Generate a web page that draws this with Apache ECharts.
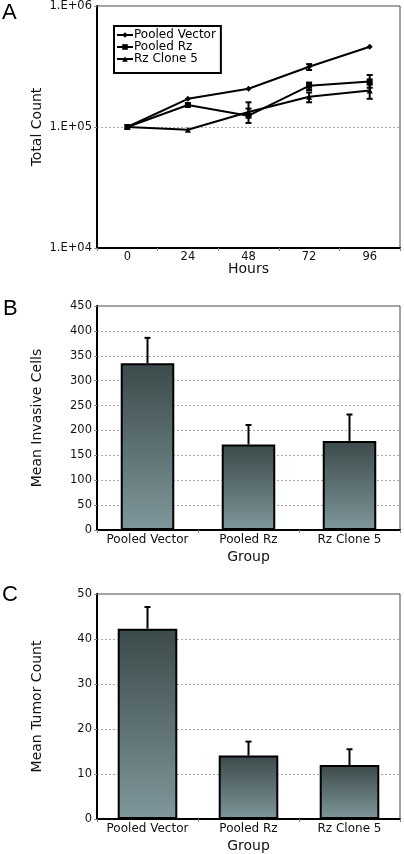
<!DOCTYPE html>
<html><head><meta charset="utf-8">
<script src="https://cdn.jsdelivr.net/npm/echarts@6/dist/echarts.min.js"></script>
<style>html,body{margin:0;padding:0;background:#fff}#c{width:404px;height:854px}</style>
</head><body><div id="c"></div>
<script>
// ---- Panel A data ----
const hours = ['0', '24', '48', '72', '96'];
const pooledVector = [100000, 171000, 207000, 315000, 460000];
const pooledRz = [100000, 152000, 124000, 219000, 238000];
const rzClone5 = [100000, 95000, 133000, 178000, 200000];
// error bars: [hourIndex, low, high]
const pooledVectorErr = [[3, 296000, 331000]];
const pooledRzErr = [[2, 108000, 160000], [3, 202000, 233000], [4, 211000, 269000]];
const rzClone5Err = [[2, 125000, 142000], [3, 160000, 193000], [4, 171000, 224000]];
const logTickLabels = ['1.E+04', '1.E+05', '1.E+06'];

// ---- Panel B / C data ----
const groups = ['Pooled Vector', 'Pooled Rz', 'Rz Clone 5'];
const invasiveMean = [335, 172, 179];
const invasiveErrHigh = [386, 211, 232];
const tumorMean = [42.3, 14.1, 12.0];
const tumorErrHigh = [47.1, 17.2, 15.5];

const FONT = 'DejaVu Sans';
const chart = echarts.init(document.getElementById('c'), null, {renderer: 'canvas'});

function makeErrRender(bottomCap) {
  return function (params, api) {
    const x = api.value(0), lo = api.value(1), hi = api.value(2);
    const pHi = api.coord([x, hi]);
    const pLo = api.coord([x, lo]);
    const w = 3;
    const style = {stroke: '#000', lineWidth: 2, fill: null};
    const children = [
      {type: 'line', shape: {x1: pHi[0], y1: pHi[1], x2: pLo[0], y2: pLo[1]}, style: style},
      {type: 'line', shape: {x1: pHi[0] - w, y1: pHi[1], x2: pHi[0] + w, y2: pHi[1]}, style: style}
    ];
    if (bottomCap) {
      children.push({type: 'line', shape: {x1: pLo[0] - w, y1: pLo[1], x2: pLo[0] + w, y2: pLo[1]}, style: style});
    }
    return {type: 'group', children: children};
  };
}

const barGrad = new echarts.graphic.LinearGradient(0, 0, 0, 1, [
  {offset: 0, color: '#3b4a4a'},
  {offset: 1, color: '#7f979b'}
]);

const axisLabelStyle = {color: '#111', fontFamily: FONT, fontSize: 11.5};
const nameStyle = {color: '#111', fontFamily: FONT, fontSize: 14};
const axisLine = {show: true, onZero: false, lineStyle: {color: '#000', width: 2}};
const splitDotted = {show: true, lineStyle: {color: '#aaa', type: [2, 2], width: 1}};
const gridCommon = {left: 97, right: 4, show: true, borderColor: '#444', borderWidth: 1, containLabel: false};

const titleStyle = {fontFamily: 'Liberation Sans', fontSize: 22, fontWeight: 'normal', color: '#000'};

const option = {
  animation: false,
  backgroundColor: '#fff',
  title: [
    {text: 'A', left: 2, top: 2, padding: 0, textStyle: titleStyle},
    {text: 'B', left: 3, top: 298, padding: 0, textStyle: titleStyle},
    {text: 'C', left: 2, top: 584, padding: 0, textStyle: titleStyle}
  ],
  legend: {
    data: ['Pooled Vector', 'Pooled Rz', 'Rz Clone 5'],
    orient: 'vertical', left: 114, top: 26,
    padding: [3, 5, 8, 2], itemGap: 0, itemWidth: 16, itemHeight: 7,
    borderColor: '#000', borderWidth: 2,
    textStyle: {fontFamily: FONT, fontSize: 12, color: '#000', padding: [0, 0, 0, -4], lineHeight: 12}
  },
  grid: [
    Object.assign({top: 5, height: 243}, gridCommon),
    Object.assign({top: 306, height: 224}, gridCommon),
    Object.assign({top: 594, height: 227}, gridCommon)
  ],
  xAxis: [
    {gridIndex: 0, type: 'category', data: hours, boundaryGap: true,
     axisLine: axisLine, axisTick: {show: true, length: 3, lineStyle: {color: '#888'}},
     axisLabel: Object.assign({margin: 3, interval: 0}, axisLabelStyle),
     name: 'Hours', nameLocation: 'middle', nameGap: 14, nameMoveOverlap: false, nameTextStyle: nameStyle, splitLine: {show: false}},
    {gridIndex: 1, type: 'category', data: groups, boundaryGap: true,
     axisLine: axisLine, axisTick: {show: true, length: 3, lineStyle: {color: '#888'}},
     axisLabel: Object.assign({margin: 4, interval: 0}, axisLabelStyle, {fontSize: 12}),
     name: 'Group', nameLocation: 'middle', nameGap: 20, nameMoveOverlap: false, nameTextStyle: nameStyle, splitLine: {show: false}},
    {gridIndex: 2, type: 'category', data: groups, boundaryGap: true,
     axisLine: axisLine, axisTick: {show: true, length: 3, lineStyle: {color: '#888'}},
     axisLabel: Object.assign({margin: 4, interval: 0}, axisLabelStyle, {fontSize: 12}),
     name: 'Group', nameLocation: 'middle', nameGap: 20, nameMoveOverlap: false, nameTextStyle: nameStyle, splitLine: {show: false}}
  ],
  yAxis: [
    {gridIndex: 0, type: 'log', logBase: 10, min: 10000, max: 1000000,
     axisLine: axisLine, axisTick: {show: true, length: 3, lineStyle: {color: '#888'}},
     axisLabel: Object.assign({margin: 5, formatter: function (v, i) { return logTickLabels[i]; }}, axisLabelStyle),
     splitLine: splitDotted, minorTick: {show: false},
     name: 'Total Count', nameLocation: 'middle', nameGap: 53, nameMoveOverlap: false, nameTextStyle: nameStyle},
    {gridIndex: 1, type: 'value', min: 0, max: 450, interval: 50,
     axisLine: axisLine, axisTick: {show: true, length: 3, lineStyle: {color: '#888'}},
     axisLabel: Object.assign({margin: 5}, axisLabelStyle),
     splitLine: splitDotted,
     name: 'Mean Invasive Cells', nameLocation: 'middle', nameGap: 53, nameMoveOverlap: false, nameTextStyle: nameStyle},
    {gridIndex: 2, type: 'value', min: 0, max: 50, interval: 10,
     axisLine: axisLine, axisTick: {show: true, length: 3, lineStyle: {color: '#888'}},
     axisLabel: Object.assign({margin: 5}, axisLabelStyle),
     splitLine: splitDotted,
     name: 'Mean Tumor Count', nameLocation: 'middle', nameGap: 53, nameMoveOverlap: false, nameTextStyle: nameStyle}
  ],
  series: [
    {name: 'Pooled Vector', type: 'line', xAxisIndex: 0, yAxisIndex: 0, data: pooledVector,
     symbol: 'diamond', symbolSize: 6, lineStyle: {color: '#000', width: 2}, itemStyle: {color: '#000'}, z: 3},
    {name: 'Pooled Rz', type: 'line', xAxisIndex: 0, yAxisIndex: 0, data: pooledRz,
     symbol: 'rect', symbolSize: 6, lineStyle: {color: '#000', width: 2}, itemStyle: {color: '#000'}, z: 3},
    {name: 'Rz Clone 5', type: 'line', xAxisIndex: 0, yAxisIndex: 0, data: rzClone5,
     symbol: 'triangle', symbolSize: 6, lineStyle: {color: '#000', width: 2}, itemStyle: {color: '#000'}, z: 3},
    {type: 'custom', xAxisIndex: 0, yAxisIndex: 0, renderItem: makeErrRender(true), encode: {x: 0, y: [1, 2]},
     data: pooledVectorErr.concat(pooledRzErr, rzClone5Err), z: 4},

    {type: 'bar', xAxisIndex: 1, yAxisIndex: 1, data: invasiveMean, barWidth: '53%',
     itemStyle: {color: barGrad, borderColor: '#000', borderWidth: 2}, z: 2},
    {type: 'custom', xAxisIndex: 1, yAxisIndex: 1, renderItem: makeErrRender(false), encode: {x: 0, y: [1, 2]},
     data: invasiveMean.map(function (m, i) { return [i, m, invasiveErrHigh[i]]; }), z: 1},

    {type: 'bar', xAxisIndex: 2, yAxisIndex: 2, data: tumorMean, barWidth: '59%',
     itemStyle: {color: barGrad, borderColor: '#000', borderWidth: 2}, z: 2},
    {type: 'custom', xAxisIndex: 2, yAxisIndex: 2, renderItem: makeErrRender(false), encode: {x: 0, y: [1, 2]},
     data: tumorMean.map(function (m, i) { return [i, m, tumorErrHigh[i]]; }), z: 1}
  ]
};
chart.setOption(option);
</script>
</body></html>
